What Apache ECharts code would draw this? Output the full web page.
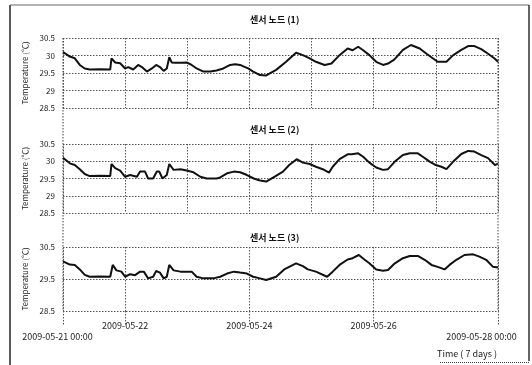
<!DOCTYPE html>
<html>
<head>
<meta charset="utf-8">
<script src="https://cdn.jsdelivr.net/npm/echarts@6/dist/echarts.min.js"></script>
<style>
  html, body { margin: 0; padding: 0; background: #fff; }
  #chart { width: 532px; height: 365px; }
</style>
</head>
<body>
<div id="chart"></div>
<script>
// ---- data (x in days since 2009-05-21 00:00) ----
const titles = ['센서 노드 (1)', '센서 노드 (2)', '센서 노드 (3)'];
const yName = 'Temperature (℃)';
const xTickDays = [0, 1, 3, 5, 7];
const xTickLabels = ['2009-05-21 00:00', '2009-05-22', '2009-05-24', '2009-05-26', '2009-05-28 00:00'];
const yTicksPanel12 = [28.5, 29, 29.5, 30, 30.5];
const yTicksPanel3 = [28.5, 29.5, 30.5];

const days1 = [0, 0.03, 0.11, 0.19, 0.27, 0.35, 0.43, 0.6, 0.76, 0.78, 0.84, 0.92, 1.0, 1.05, 1.13, 1.21, 1.27, 1.35, 1.43, 1.5, 1.56, 1.62, 1.67, 1.71, 1.75, 1.8, 1.91, 1.99, 2.07, 2.15, 2.26, 2.37, 2.47, 2.58, 2.69, 2.77, 2.85, 2.93, 2.98, 3.06, 3.17, 3.27, 3.43, 3.59, 3.75, 3.86, 3.97, 4.07, 4.21, 4.32, 4.45, 4.58, 4.66, 4.75, 4.83, 4.93, 5.04, 5.15, 5.23, 5.33, 5.47, 5.6, 5.74, 5.85, 5.95, 6.03, 6.17, 6.28, 6.41, 6.52, 6.62, 6.73, 6.84, 6.94, 7.0];
const temp1 = [30.1, 30.06, 29.97, 29.92, 29.73, 29.63, 29.6, 29.61, 29.6, 29.92, 29.8, 29.78, 29.63, 29.67, 29.6, 29.73, 29.67, 29.54, 29.63, 29.73, 29.67, 29.56, 29.63, 29.95, 29.8, 29.79, 29.79, 29.8, 29.73, 29.63, 29.54, 29.54, 29.57, 29.63, 29.73, 29.75, 29.73, 29.67, 29.63, 29.54, 29.44, 29.43, 29.59, 29.82, 30.08, 30.01, 29.92, 29.82, 29.73, 29.77, 30.01, 30.2, 30.15, 30.25, 30.15, 30.01, 29.82, 29.73, 29.77, 29.88, 30.16, 30.3, 30.2, 30.05, 29.92, 29.82, 29.82, 30.01, 30.16, 30.27, 30.27, 30.18, 30.05, 29.92, 29.82];

const days2 = [0, 0.03, 0.11, 0.19, 0.27, 0.35, 0.43, 0.6, 0.76, 0.78, 0.84, 0.92, 1.0, 1.08, 1.19, 1.24, 1.32, 1.37, 1.45, 1.51, 1.55, 1.6, 1.67, 1.71, 1.78, 1.89, 1.99, 2.1, 2.21, 2.31, 2.47, 2.53, 2.64, 2.75, 2.85, 2.96, 3.07, 3.17, 3.27, 3.4, 3.54, 3.64, 3.76, 3.86, 3.97, 4.07, 4.18, 4.28, 4.34, 4.45, 4.58, 4.65, 4.75, 4.83, 4.93, 5.04, 5.15, 5.23, 5.34, 5.47, 5.58, 5.71, 5.79, 5.9, 6.0, 6.09, 6.17, 6.28, 6.41, 6.52, 6.62, 6.73, 6.84, 6.95, 7.0];
const temp2 = [30.1, 30.08, 29.94, 29.89, 29.77, 29.63, 29.57, 29.58, 29.57, 29.92, 29.8, 29.73, 29.55, 29.6, 29.55, 29.7, 29.7, 29.5, 29.5, 29.7, 29.7, 29.5, 29.6, 29.92, 29.75, 29.77, 29.73, 29.68, 29.55, 29.5, 29.5, 29.53, 29.65, 29.7, 29.68, 29.6, 29.5, 29.44, 29.41, 29.55, 29.7, 29.89, 30.06, 29.96, 29.92, 29.84, 29.77, 29.67, 29.84, 30.06, 30.2, 30.2, 30.23, 30.13, 29.96, 29.82, 29.75, 29.77, 29.99, 30.18, 30.23, 30.23, 30.13, 29.99, 29.89, 29.84, 29.77, 29.99, 30.21, 30.3, 30.28, 30.18, 30.09, 29.89, 29.93];

const days3 = [0, 0.03, 0.11, 0.19, 0.27, 0.35, 0.43, 0.6, 0.76, 0.8, 0.86, 0.94, 1.0, 1.08, 1.16, 1.24, 1.3, 1.37, 1.45, 1.5, 1.56, 1.62, 1.67, 1.71, 1.78, 1.89, 1.99, 2.07, 2.15, 2.26, 2.42, 2.53, 2.64, 2.75, 2.85, 2.96, 3.06, 3.17, 3.27, 3.43, 3.56, 3.75, 3.86, 3.94, 4.07, 4.25, 4.34, 4.45, 4.58, 4.66, 4.76, 4.85, 4.93, 5.04, 5.15, 5.23, 5.34, 5.47, 5.58, 5.71, 5.82, 5.93, 6.03, 6.14, 6.22, 6.33, 6.46, 6.6, 6.7, 6.81, 6.92, 7.0];
const temp3 = [30.05, 30.02, 29.95, 29.94, 29.8, 29.63, 29.57, 29.58, 29.57, 29.94, 29.77, 29.73, 29.57, 29.65, 29.62, 29.73, 29.73, 29.52, 29.57, 29.75, 29.7, 29.52, 29.57, 29.94, 29.77, 29.73, 29.73, 29.73, 29.57, 29.52, 29.52, 29.57, 29.67, 29.73, 29.7, 29.67, 29.57, 29.52, 29.47, 29.57, 29.8, 29.99, 29.9, 29.8, 29.73, 29.57, 29.73, 29.94, 30.11, 30.15, 30.25, 30.11, 29.99, 29.8, 29.76, 29.78, 29.99, 30.15, 30.22, 30.22, 30.1, 29.94, 29.88, 29.8, 29.94, 30.1, 30.25, 30.27, 30.2, 30.1, 29.88, 29.86];

// ---- layout ----
const FONT = '"Noto Sans CJK KR", "Noto Sans", sans-serif';
const GL = 63, GW = 435;
const panels = [
  { top: 38, height: 70, ticks: yTicksPanel12, titleTop: 15 },
  { top: 144, height: 69, ticks: yTicksPanel12, titleTop: 125 },
  { top: 247, height: 64, ticks: yTicksPanel3, titleTop: 233 }
];
const seriesDays = [days1, days2, days3];
const seriesTemp = [temp1, temp2, temp3];

const gridLine = { show: true, lineStyle: { color: '#555', type: [1.5, 1.5], width: 1 } };

const chart = echarts.init(document.getElementById('chart'), null, { renderer: 'canvas' });

const option = {
  backgroundColor: '#fff',
  animation: false,
  textStyle: { fontFamily: FONT },
  title: panels.map((p, i) => ({
    text: titles[i],
    left: 250, top: p.titleTop, padding: 0,
    textStyle: { fontFamily: FONT, fontSize: 9, fontWeight: 'bold', color: '#111' }
  })),
  grid: panels.map(p => ({ left: GL, width: GW, top: p.top, height: p.height, containLabel: false })),
  xAxis: panels.map((p, i) => {
    const last = i === panels.length - 1;
    return {
      type: 'value', gridIndex: i, min: 0, max: 7, interval: 1,
      axisLine: { show: false },
      splitLine: gridLine,
      axisTick: last ? { show: true, customValues: xTickDays, length: 14, lineStyle: { color: '#555', type: [1.5, 1.5] } } : { show: false },
      axisLabel: last ? {
        show: true, customValues: xTickDays, margin: 10, fontSize: 9, color: '#222', fontFamily: FONT,
        formatter: v => {
          const k = xTickDays.indexOf(Math.round(v));
          if (k < 0) return '';
          if (k === 0) return '{s|' + xTickLabels[k] + '}';
          if (k === xTickDays.length - 1) return '{e|' + xTickLabels[k] + '}';
          return xTickLabels[k];
        },
        rich: {
          s: { fontSize: 9, color: '#222', fontFamily: FONT, padding: [11, 11, 0, 0] },
          e: { fontSize: 9, color: '#222', fontFamily: FONT, padding: [11, 33, 0, 0] }
        }
      } : { show: false }
    };
  }),
  yAxis: panels.map((p, i) => ({
    type: 'value', gridIndex: i,
    min: p.ticks[0], max: p.ticks[p.ticks.length - 1],
    interval: p.ticks[1] - p.ticks[0],
    name: yName, nameLocation: 'middle', nameGap: 34, nameRotate: 90,
    nameTextStyle: { fontSize: 8, color: '#222', fontFamily: FONT },
    axisLine: { show: false },
    axisTick: { show: false },
    splitLine: gridLine,
    axisLabel: { fontSize: 8, color: '#222', margin: 8, fontFamily: FONT }
  })),
  series: panels.map((p, i) => ({
    type: 'line', xAxisIndex: i, yAxisIndex: i,
    showSymbol: false, symbol: 'none',
    lineStyle: { color: '#111', width: 2 },
    data: seriesDays[i].map((d, j) => [d, seriesTemp[i][j]])
  }))
};
chart.setOption(option);

// decorations: continuous outer vertical axis lines, frame, axis caption
const top0 = panels[0].top;
const bot = panels[2].top + panels[2].height;
chart.setOption({
  graphic: [
    { type: 'line', shape: { x1: GL, y1: top0, x2: GL, y2: bot }, style: { stroke: '#444', lineWidth: 1, lineDash: [1.5, 1.5] } },
    { type: 'line', shape: { x1: GL + GW, y1: top0, x2: GL + GW, y2: bot }, style: { stroke: '#444', lineWidth: 1, lineDash: [1.5, 1.5] } },
    { type: 'line', shape: { x1: 10, y1: 5, x2: 10, y2: 365 }, style: { stroke: '#222', lineWidth: 1.5 } },
    { type: 'line', shape: { x1: 10, y1: 5, x2: 529, y2: 5 }, style: { stroke: '#666', lineWidth: 1.2 } },
    { type: 'line', shape: { x1: 529, y1: 5, x2: 529, y2: 361 }, style: { stroke: '#333', lineWidth: 1.5 } },
    { type: 'line', shape: { x1: 440, y1: 362.5, x2: 529, y2: 362.5 }, style: { stroke: '#444', lineWidth: 1, lineDash: [1, 1] } },
    { type: 'text', x: 497, y: 354, style: { text: 'Time ( 7 days )', fill: '#222', font: '9px ' + FONT, textAlign: 'right', textVerticalAlign: 'middle' } }
  ]
});
</script>
</body>
</html>
